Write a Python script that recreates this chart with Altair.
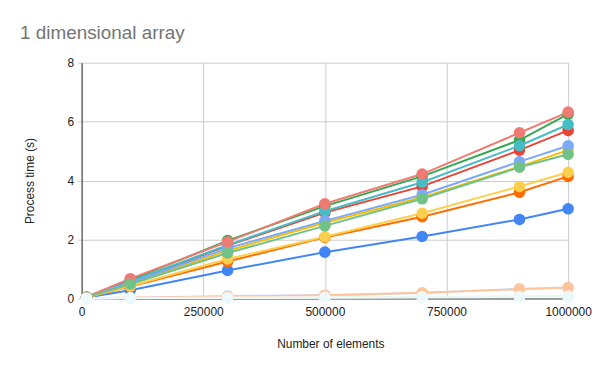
import altair as alt
import pandas as pd

x_values = [10000, 100000, 300000, 500000, 700000, 900000, 1000000]

series_names = ["s1", "s2", "s3", "s4", "s5", "s6", "s7", "s8", "s9", "s10",
                "s11", "s12", "s13", "s14", "s15"]
series_colors = ["#4285F4", "#EA4335", "#FBBC04", "#34A853", "#FF6D01", "#46BDC6",
                 "#7BAAF7", "#F07B72", "#FCD04F", "#71C287",
                 "#C6DAFC", "#FFC599", "#FDECEB", "#EBF6EE", "#ECF8F9"]

s1 = [0.03, 0.28, 0.95, 1.57, 2.10, 2.68, 3.04]
s2 = [0.04, 0.55, 1.79, 2.91, 3.80, 5.03, 5.70]
s3 = [0.03, 0.50, 1.62, 2.57, 3.43, 4.47, 5.03]
s4 = [0.04, 0.62, 1.96, 3.13, 4.14, 5.37, 6.25]
s5 = [0.03, 0.40, 1.25, 2.07, 2.77, 3.60, 4.14]
s6 = [0.04, 0.58, 1.81, 2.96, 3.94, 5.18, 5.90]
s7 = [0.04, 0.53, 1.70, 2.63, 3.52, 4.64, 5.18]
s8 = [0.05, 0.67, 1.92, 3.21, 4.22, 5.62, 6.32]
s9 = [0.03, 0.42, 1.34, 2.09, 2.89, 3.80, 4.28]
s10 = [0.04, 0.48, 1.54, 2.46, 3.38, 4.45, 4.89]
s11 = [0.01, 0.02, 0.08, 0.11, 0.18, 0.33, 0.36]
s12 = [0.01, 0.02, 0.06, 0.11, 0.19, 0.31, 0.37]
s13 = [0.00, 0.01, 0.03, 0.04, 0.06, 0.07, 0.08]
s14 = [0.00, 0.01, 0.02, 0.03, 0.05, 0.05, 0.06]
s15 = [0.00, 0.01, 0.01, 0.02, 0.03, 0.04, 0.04]

all_series = [s1, s2, s3, s4, s5, s6, s7, s8, s9, s10, s11, s12, s13, s14, s15]

x_ticks = [0, 250000, 500000, 750000, 1000000]
y_ticks = [0, 2, 4, 6, 8]

rows = []
for i, (name, vals) in enumerate(zip(series_names, all_series)):
    for xv, yv in zip(x_values, vals):
        rows.append({"series": name, "order": i, "n": xv, "t": yv})
df = pd.DataFrame(rows)

FONT = "Arial, Liberation Sans, sans-serif"

color = alt.Color("series:N", scale=alt.Scale(domain=series_names, range=series_colors),
                  legend=None)

x_enc = alt.X("n:Q",
              scale=alt.Scale(domain=[0, 1000000], nice=False, zero=True),
              axis=alt.Axis(values=x_ticks, title="Number of elements", format="d",
                            labelFont=FONT, labelFontSize=12, labelColor="#222222",
                            labelPadding=8, ticks=False,
                            domainColor="#333333", domainWidth=1,
                            gridColor="#CCCCCC",
                            titleFont=FONT, titleFontSize=12, titleFontWeight="normal",
                            titleColor="#222222", titleX=250, titleY=45,
                            titleBaseline="middle", labelFlush=False))
y_enc = alt.Y("t:Q",
              scale=alt.Scale(domain=[0, 8], nice=False),
              axis=alt.Axis(values=y_ticks, title="Process time (s)",
                            labelFont=FONT, labelFontSize=12, labelColor="#222222",
                            tickSize=4, tickColor="#CCCCCC", labelPadding=4,
                            domainColor="#333333", domainWidth=1,
                            gridColor="#CCCCCC",
                            titleFont=FONT, titleFontSize=12, titleFontWeight="normal",
                            titleColor="#222222", titleX=-52, titleY=118.5,
                            titleBaseline="middle", titleAngle=-90))

base = alt.Chart(df)
lines = base.mark_line(strokeWidth=2).encode(
    x=x_enc, y=y_enc, color=color, detail="series:N", order="n:Q")
points = base.mark_circle(size=135, opacity=1).encode(
    x="n:Q", y="t:Q", color=color, order="order:Q")

chart = alt.layer(lines, points).properties(
    width=489, height=237,
    title=alt.TitleParams("1 dimensional array", anchor="start", frame="group",
                          font=FONT, fontSize=19, fontWeight="normal",
                          color="#757575", dx=-62, offset=14),
    autosize=alt.AutoSizeParams(type="none"),
    padding={"left": 74, "top": 54, "right": 24, "bottom": 64},
).configure_view(stroke=None).configure_axis(gridWidth=1)

chart.save("out.html", embed_options={"renderer": "svg", "actions": False})
